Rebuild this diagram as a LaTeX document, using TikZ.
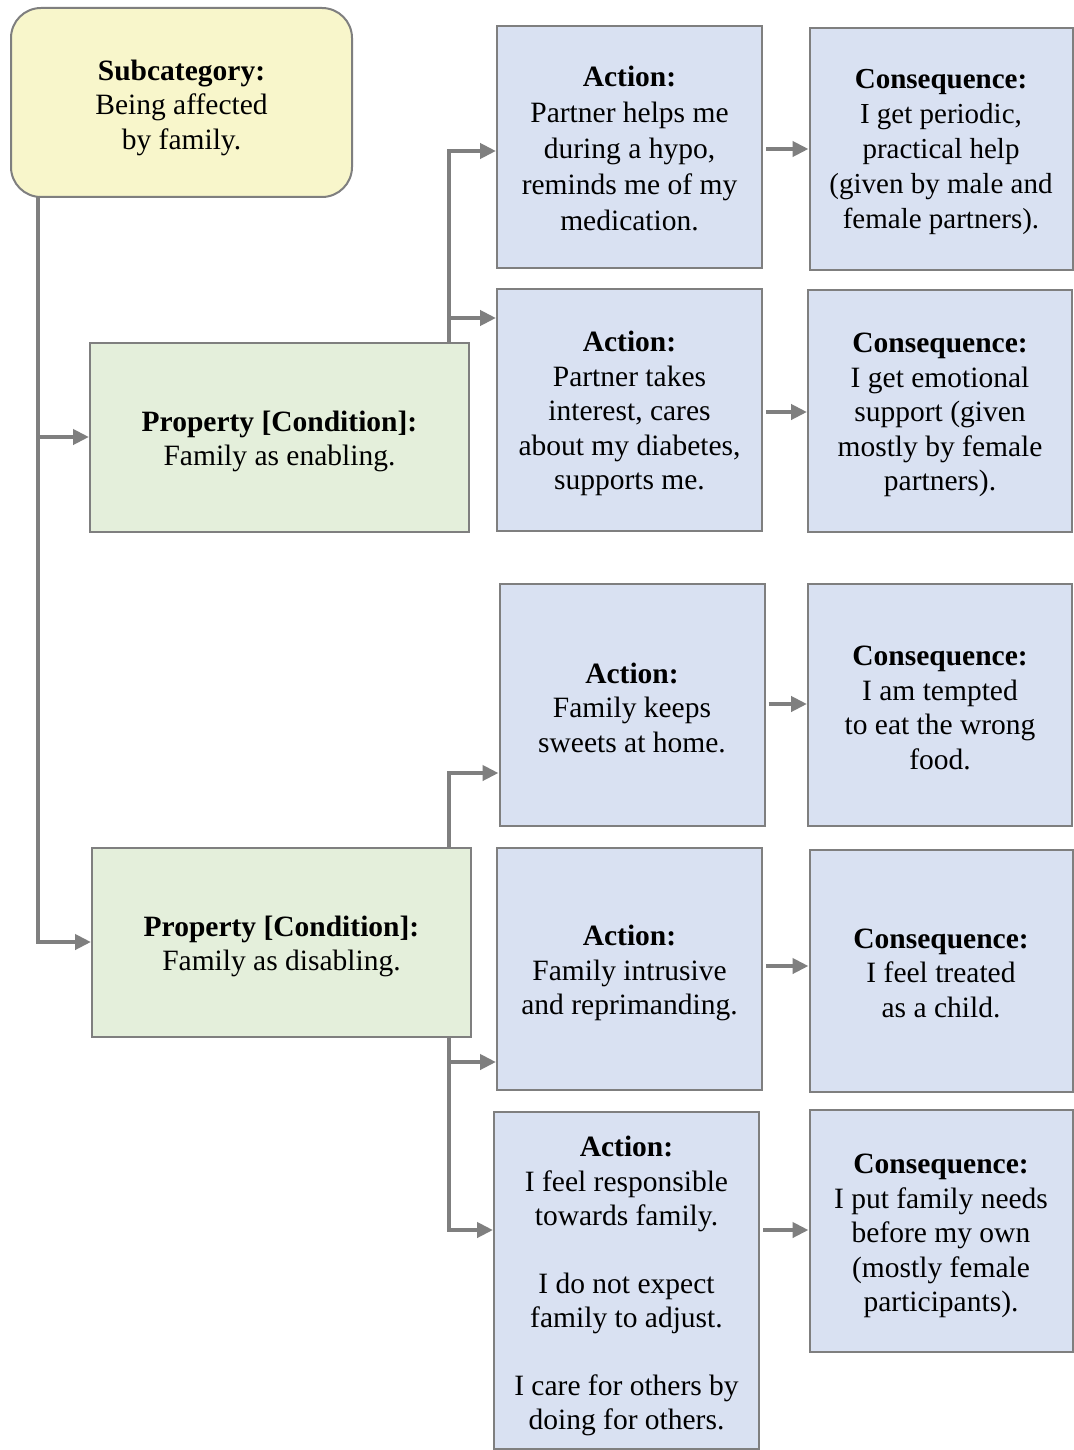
\documentclass[tikz,border=0pt]{standalone}
\usepackage{fontspec}
\setmainfont{Liberation Serif}
\usetikzlibrary{arrows.meta}
\definecolor{bordergray}{HTML}{7F7F7F}
\definecolor{subfill}{HTML}{F8F6CB}
\definecolor{propfill}{HTML}{E4EFDB}
\definecolor{actfill}{HTML}{D9E1F2}
\newcommand{\myTS}[1][28pt]{\rule{0pt}{#1}}
\tikzset{
  base/.style={draw=bordergray, line width=2pt, align=center, inner sep=0pt,
    font=\fontsize{29.5}{34.5}\selectfont},
  subbox/.style={base, fill=subfill, rounded corners=30pt},
  propbox/.style={base, fill=propfill, minimum width=379pt, minimum height=189pt},
  actbox/.style={base, fill=actfill, minimum width=265pt, minimum height=242pt},
  conbox/.style={base, fill=actfill, minimum width=263pt, minimum height=242pt},
  arr/.style={draw=bordergray, line width=4pt, -{Triangle[length=16pt,width=15pt]}},
}
\begin{document}
\begin{tikzpicture}[x=1pt,y=-1pt]
\useasboundingbox (0,0) rectangle (1073,1450);
\fill[white] (0,0) rectangle (1073,1450);

% Subcategory
\node[subbox, minimum width=341pt, minimum height=189pt] (sub) at (181.5,102.5)
  {\myTS[31pt]\textbf{Subcategory:}\\Being affected\\by family.};

% Properties
\node[propbox] (p1) at (279.5,437.5) {\myTS\textbf{Property [Condition]:}\\Family as enabling.};
\node[propbox] (p2) at (281.5,942.5) {\myTS\textbf{Property [Condition]:}\\Family as disabling.};

% Actions
\node[actbox, font=\fontsize{29.5}{36}\selectfont] (a1) at (629.5,147) {\myTS[24pt]\textbf{Action:}\\Partner helps me\\during a hypo,\\reminds me of my\\medication.};
\node[actbox] (a2) at (629.5,410) {\myTS\textbf{Action:}\\Partner takes\\interest, cares\\about my diabetes,\\supports me.};
\node[actbox] (a3) at (632,705) {\myTS[26pt]\textbf{Action:}\\Family keeps\\sweets at home.};
\node[actbox] (a4) at (629.5,969) {\myTS[29pt]\textbf{Action:}\\Family intrusive\\and reprimanding.};
\node[actbox, minimum height=337pt] (a5) at (626.5,1280.5) {\myTS[32pt]\textbf{Action:}\\I feel responsible\\towards family.\\[33pt]I do not expect\\family to adjust.\\[33pt]I care for others by\\doing for others.};

% Consequences
\node[conbox, font=\fontsize{29}{35}\selectfont] (c1) at (941,149) {\myTS[25pt]\textbf{Consequence:}\\I get periodic,\\practical help\\(given by male and\\female partners).};
\node[conbox, minimum width=264pt] (c2) at (940,411) {\myTS\textbf{Consequence:}\\I get emotional\\support (given\\mostly by female\\partners).};
\node[conbox, minimum width=264pt] (c3) at (940,705) {\myTS[25pt]\textbf{Consequence:}\\I am tempted\\to eat the wrong\\food.};
\node[conbox] (c4) at (941,971) {\myTS[24pt]\textbf{Consequence:}\\I feel treated\\as a child.};
\node[conbox] (c5) at (941,1231) {\myTS[30pt]\textbf{Consequence:}\\I put family needs\\before my own\\(mostly female\\participants).};

% Trunk from subcategory
\coordinate (t0) at (38,196);
\draw[arr] (t0) |- (p1.west |- 0,437);
\draw[arr] (t0) |- (p2.west |- 0,942);

% Property 1 branches
\coordinate (b1) at (449,342);
\draw[arr] (b1) |- (a1.west |- 0,151);
\draw[arr] (b1) |- (a2.west |- 0,318);

% Property 2 branches
\coordinate (b2) at (449,847);
\draw[arr] (b2) |- (a3.west |- 0,773);
\coordinate (b3) at (449,1038);
\draw[arr] (b3) |- (a4.west |- 0,1062);
\draw[arr] (b3) |- (a5.west |- 0,1230);

% Action -> Consequence
\draw[arr] ([xshift=3pt]a1.east |- 0,149) -- (c1.west |- 0,149);
\draw[arr] ([xshift=3pt]a2.east |- 0,412) -- (c2.west |- 0,412);
\draw[arr] ([xshift=3pt]a3.east |- 0,704) -- (c3.west |- 0,704);
\draw[arr] ([xshift=3pt]a4.east |- 0,966) -- (c4.west |- 0,966);
\draw[arr] ([xshift=3pt]a5.east |- 0,1230) -- (c5.west |- 0,1230);
\end{tikzpicture}
\end{document}
